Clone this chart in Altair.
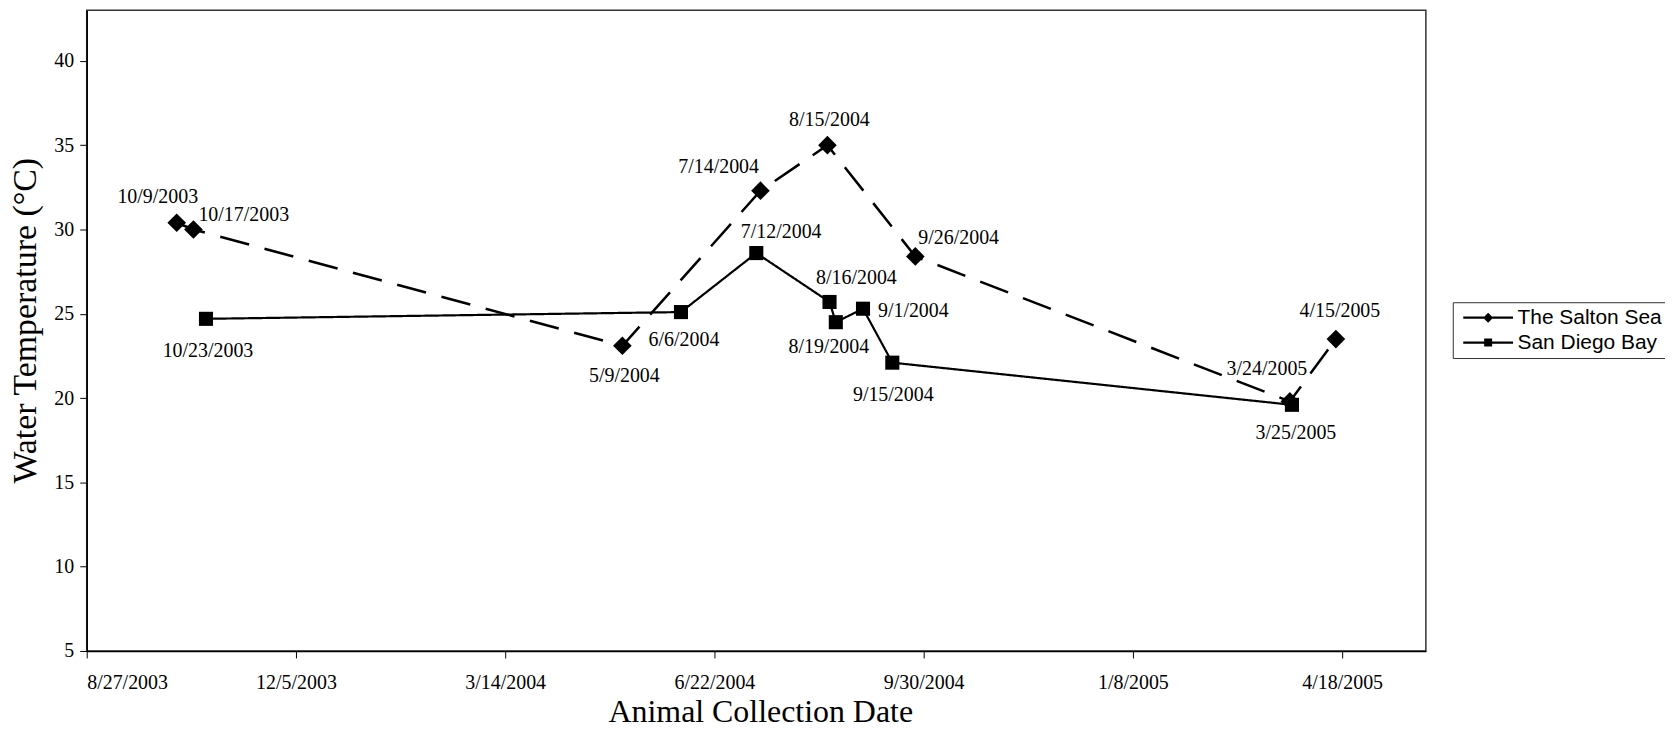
import altair as alt
import pandas as pd

# ---------------- data ----------------
site_names = ["The Salton Sea", "San Diego Bay"]

salton_dates = ["10/9/2003", "10/17/2003", "5/9/2004", "7/14/2004",
                "8/15/2004", "9/26/2004", "3/24/2005", "4/15/2005"]
salton_temps = [30.4, 30.0, 23.1, 32.3, 35.0, 28.4, 19.8, 23.5]

sd_dates = ["10/23/2003", "6/6/2004", "7/12/2004", "8/16/2004",
            "8/19/2004", "9/1/2004", "9/15/2004", "3/25/2005"]
sd_temps = [24.7, 25.1, 28.6, 25.7, 24.5, 25.3, 22.1, 19.6]

x_tick_dates = [(2003, 8, 27), (2003, 12, 5), (2004, 3, 14), (2004, 6, 22),
                (2004, 9, 30), (2005, 1, 8), (2005, 4, 18)]
x_domain_dates = [(2003, 8, 27), (2005, 5, 28)]
y_ticks = [5, 10, 15, 20, 25, 30, 35, 40]
y_domain = [5, 43]

x_title = "Animal Collection Date"
y_title = "Water Temperature (°C)"

# ---------------- label placement (style, not data) ----------------
label_layout = {
    ("The Salton Sea", "10/9/2003"): ("center", -19, -26),
    ("The Salton Sea", "10/17/2003"): ("left", 5, -15),
    ("The Salton Sea", "5/9/2004"): ("center", 2, 30),
    ("The Salton Sea", "7/14/2004"): ("center", -42, -24),
    ("The Salton Sea", "8/15/2004"): ("center", 2, -25),
    ("The Salton Sea", "9/26/2004"): ("left", 3, -18),
    ("The Salton Sea", "3/24/2005"): ("center", -23, -33),
    ("The Salton Sea", "4/15/2005"): ("center", 4, -28),
    ("San Diego Bay", "10/23/2003"): ("center", 2, 32),
    ("San Diego Bay", "6/6/2004"): ("center", 3, 28),
    ("San Diego Bay", "7/12/2004"): ("center", 25, -21),
    ("San Diego Bay", "8/16/2004"): ("center", 27, -24),
    ("San Diego Bay", "8/19/2004"): ("center", -7, 25),
    ("San Diego Bay", "9/1/2004"): ("left", 15, 2),
    ("San Diego Bay", "9/15/2004"): ("center", 1, 32),
    ("San Diego Bay", "3/25/2005"): ("center", 4, 28),
}

rows = []
for d, t in zip(salton_dates, salton_temps):
    rows.append({"date": d, "temp": t, "site": site_names[0], "label": d})
for d, t in zip(sd_dates, sd_temps):
    rows.append({"date": d, "temp": t, "site": site_names[1], "label": d})
df = pd.DataFrame(rows)

SERIF = "Liberation Serif"
SANS = "Liberation Sans"


def dt(t):
    return alt.DateTime(year=t[0], month=t[1], date=t[2])


x_enc = alt.X(
    "date:T",
    scale=alt.Scale(domain=[dt(t) for t in x_domain_dates], nice=False),
    axis=alt.Axis(
        values=[dt(t) for t in x_tick_dates],
        format="%-m/%-d/%Y",
        labelPadding=15,
        title=x_title,
        titleFontSize=32,
        titleY=71,
        titleX=676,
        titleBaseline="alphabetic",
    ),
)
y_enc = alt.Y(
    "temp:Q",
    scale=alt.Scale(domain=y_domain, nice=False, zero=False),
    axis=alt.Axis(
        values=y_ticks,
        labelPadding=6,
        title=y_title,
        titleFontSize=34,
        titleX=-61,
        titleY=311,
        titleAngle=270,
        titleBaseline="middle",
    ),
)

base = alt.Chart(df)

lines = base.mark_line(color="black").encode(
    x=x_enc,
    y=y_enc,
    strokeDash=alt.StrokeDash(
        "site:N",
        scale=alt.Scale(domain=site_names, range=[[30, 16], [1, 0]]),
        legend=None,
    ),
    strokeWidth=alt.StrokeWidth(
        "site:N",
        scale=alt.Scale(domain=site_names, range=[2.5, 2.2]),
        legend=None,
    ),
)

points = base.mark_point(filled=True, color="black", opacity=1).encode(
    x=x_enc,
    y=y_enc,
    shape=alt.Shape("site:N", scale=alt.Scale(domain=site_names, range=["diamond", "square"]), legend=None),
    size=alt.Size("site:N", scale=alt.Scale(domain=site_names, range=[350, 200]), legend=None),
)

# legend glyphs: a line with the series marker in its middle (filled paths)
legend_salton = "M-1,-0.22H9V0.22H-1ZM3,0L4,-1L5,0L4,1Z"
legend_sd = "M-1,-0.22H9V0.22H-1ZM3.2,-0.8H4.8V0.8H3.2Z"

legend_layer = base.transform_filter("false").mark_point(filled=True, color="black").encode(
    x=x_enc,
    y=y_enc,
    shape=alt.Shape(
        "site:N",
        scale=alt.Scale(domain=site_names, range=[legend_salton, legend_sd]),
        legend=alt.Legend(
            title=None,
            orient="none",
            legendX=1371,
            legendY=293,
            direction="vertical",
            padding=5,
            strokeColor="#333333",
            fillColor="white",
            symbolSize=100,
            symbolStrokeWidth=0,
            symbolFillColor="black",
            symbolOpacity=1,
            labelFont=SANS,
            labelFontSize=21,
            labelColor="black",
            labelOffset=39,
            labelLimit=300,
            rowPadding=3,
        ),
    ),
)

text_layers = []
for (site, d), (align, dx, dy) in label_layout.items():
    text_layers.append(
        base.transform_filter((alt.datum.site == site) & (alt.datum.label == d))
        .mark_text(align=align, baseline="middle", dx=dx, dy=dy,
                   font=SERIF, fontSize=20, color="black")
        .encode(x=x_enc, y=y_enc, text="label:N")
    )

chart = (
    alt.layer(lines, points, legend_layer, *text_layers)
    .resolve_scale(shape="independent", size="independent")
    .properties(
        width=1344,
        height=643,
        autosize=alt.AutoSizeParams(type="none"),
        padding={"left": 79, "top": 1, "right": 240, "bottom": 72},
        background="white",
    )
    .configure_view(stroke="#333333", strokeWidth=1.5)
    .configure_axis(
        grid=False,
        domainColor="black",
        domainWidth=1.5,
        tickColor="black",
        tickSize=7,
        tickWidth=1,
        labelFont=SERIF,
        labelFontSize=20,
        labelColor="black",
        titleFont=SERIF,
        titleColor="black",
        titleFontWeight="normal",
    )
)

chart.save("out.html", embed_options={"renderer": "svg", "actions": False})
